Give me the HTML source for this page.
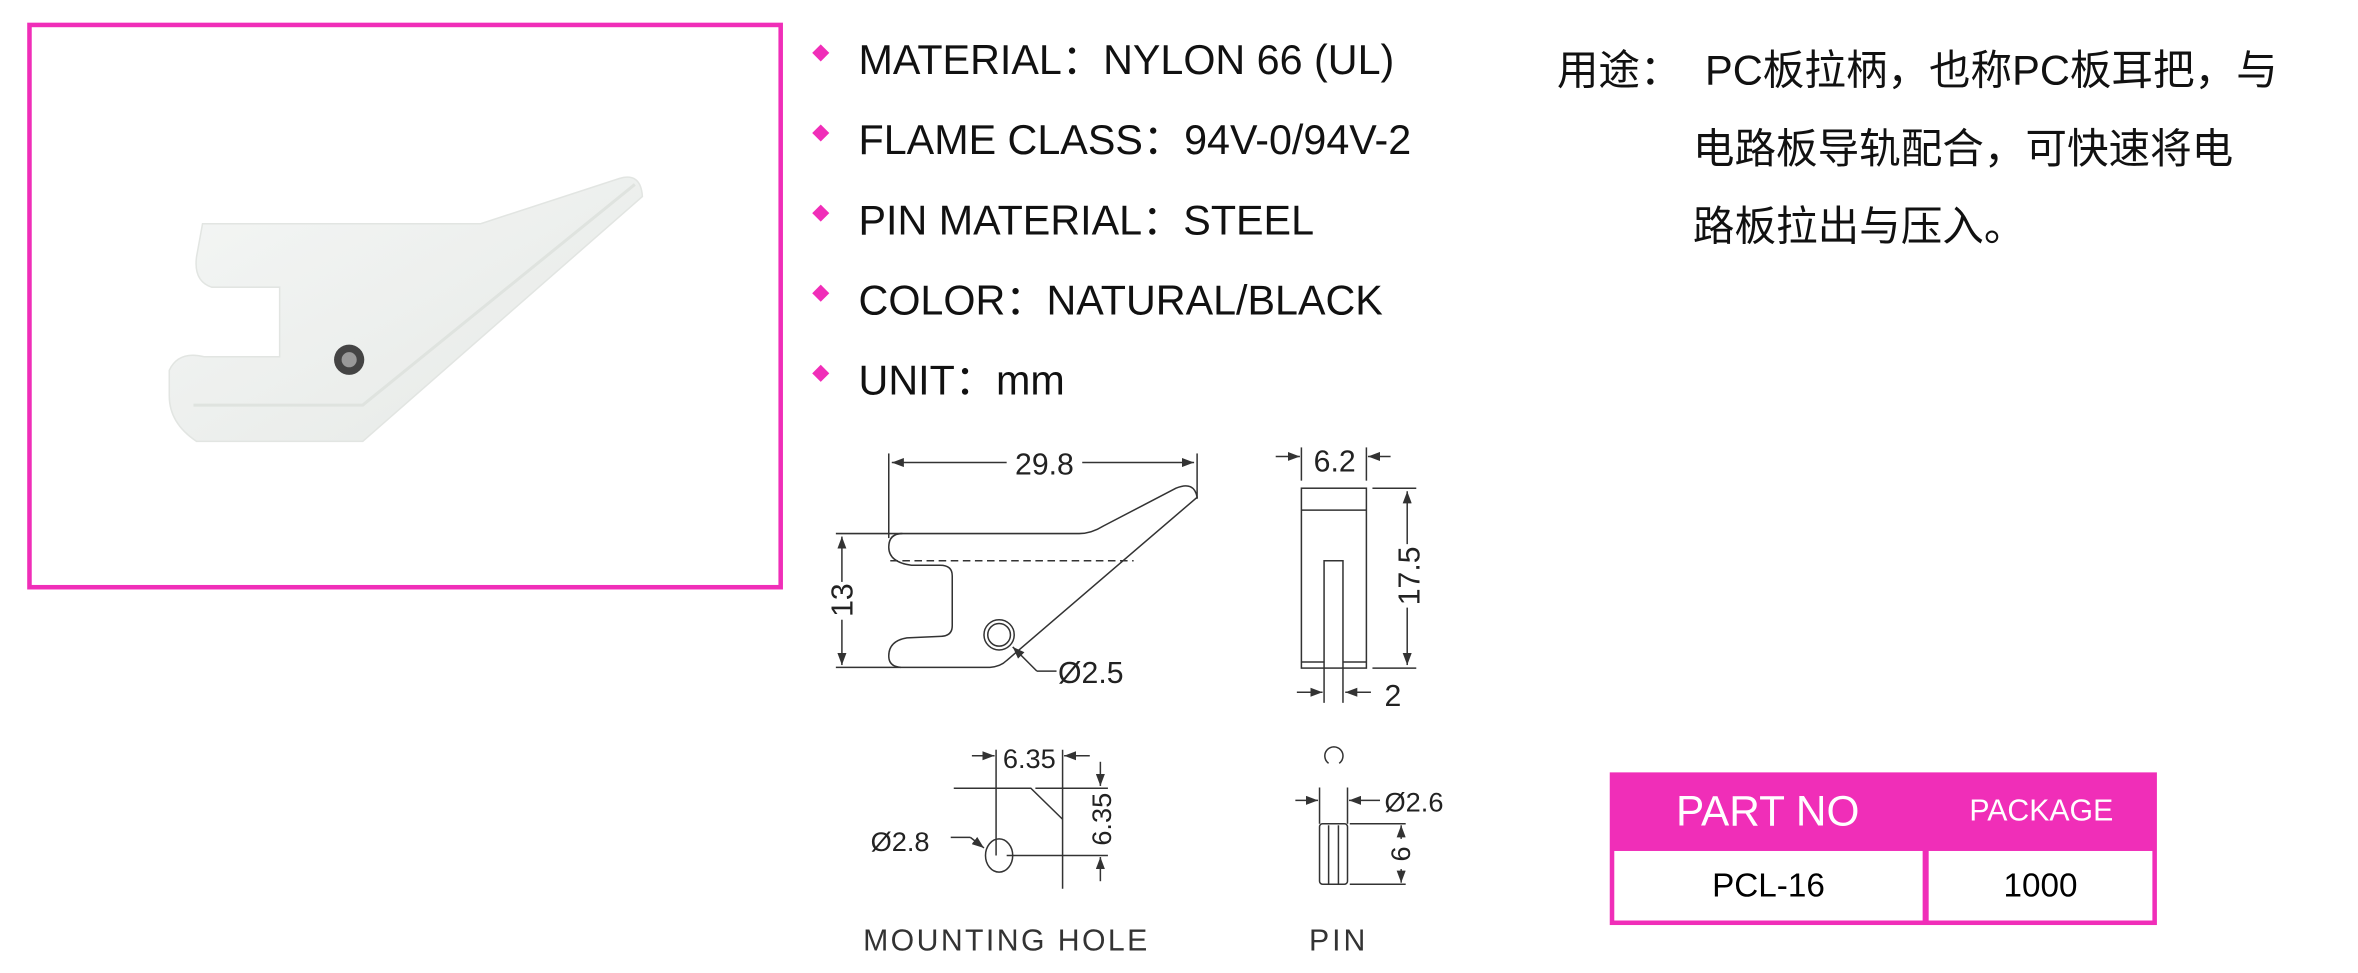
<!DOCTYPE html>
<html><head><meta charset="utf-8"><style>
html,body{margin:0;padding:0;background:#fff;width:2358px;height:973px;overflow:hidden}
#w{position:absolute;left:0;top:0;width:1560px;height:644px;transform:scale(1.5115);transform-origin:0 0;font-family:"Liberation Sans","Noto Sans CJK SC",sans-serif}
.frame{position:absolute;left:18px;top:15px;width:494px;height:369px;border:3px solid #f02eb8}
.li{position:absolute;left:568px;font-size:27.3px;color:#111;white-space:nowrap}
.bul{position:absolute;left:539px;width:8px;height:8px;background:#f02eb8;transform:rotate(45deg)}
.cn{position:absolute;font-size:27.5px;color:#111;white-space:nowrap}
.tb{position:absolute;background:#f02eb8}
.c{position:absolute;display:flex;align-items:center;justify-content:center}
</style></head><body><div id="w">
<div class="frame"></div>
<svg style="position:absolute;left:0;top:0" width="560" height="400">
<defs><linearGradient id="g" x1="0" y1="0" x2="1" y2="1"><stop offset="0" stop-color="#f4f6f5"/><stop offset="1" stop-color="#e6e9e6"/></linearGradient></defs>
<path d="M134 148 L318 148 L410 118 Q424 114 425 130 L240 292 L130 292 Q112 280 112 262 L112 245 Q118 232 135 236 L185 236 L185 190 L140 190 Q128 186 130 170 Z" fill="url(#g)" stroke="#e2e5e2" stroke-width="1"/>
<path d="M128 268 L240 268 L420 122" fill="none" stroke="#dfe3df" stroke-width="2"/>
<circle cx="231" cy="238" r="10" fill="#444"/><circle cx="231" cy="238" r="5" fill="#999"/>
</svg>
<div class="bul" style="top:31px"></div><div class="li" style="top:17px">MATERIAL：NYLON 66 (UL)</div>
<div class="bul" style="top:84px"></div><div class="li" style="top:70px">FLAME CLASS：94V-0/94V-2</div>
<div class="bul" style="top:137px"></div><div class="li" style="top:123px">PIN MATERIAL：STEEL</div>
<div class="bul" style="top:190px"></div><div class="li" style="top:176px">COLOR：NATURAL/BLACK</div>
<div class="bul" style="top:243px"></div><div class="li" style="top:229px">UNIT：mm</div>
<div class="cn" style="left:1030px;top:24px">用途：</div>
<div class="cn" style="left:1128px;top:24px">PC板拉柄，也称PC板耳把，与</div>
<div class="cn" style="left:1120px;top:76px">电路板导轨配合，可快速将电</div>
<div class="cn" style="left:1120px;top:127px">路板拉出与压入。</div>
<svg style="position:absolute;left:0;top:0" width="1000" height="644" font-family="Liberation Sans, sans-serif" fill="none" stroke="#333" stroke-width="1">
<defs><marker id="a" markerWidth="8" markerHeight="6" refX="8" refY="3" orient="auto"><path d="M0 0L8 3L0 6z" fill="#333" stroke="none"/></marker></defs>
<line x1="588" y1="300" x2="588" y2="356"/><line x1="792" y1="300" x2="792" y2="330"/>
<line x1="666" y1="306" x2="590" y2="306" marker-end="url(#a)"/><line x1="716" y1="306" x2="790" y2="306" marker-end="url(#a)"/>
<text x="691" y="314" font-size="20" fill="#222" stroke="none" text-anchor="middle">29.8</text>
<path d="M597 353 L714 353 Q722 353 730 348 L778 323 Q790 318 792 329 L666 437 Q662 441 655 441.5 L596 441.5 Q588 441 588 434 Q588 424 600 422 L622 421 Q630 421 630 414 L630 381 Q630 374 622 374 L603 374 Q588 372 588 362 Q588 353 597 353 Z"/>
<line x1="589" y1="371" x2="750" y2="371" stroke-dasharray="5 3"/>
<line x1="553" y1="353" x2="597" y2="353"/><line x1="553" y1="441.5" x2="596" y2="441.5"/>
<line x1="557" y1="385" x2="557" y2="355" marker-end="url(#a)"/><line x1="557" y1="410" x2="557" y2="440" marker-end="url(#a)"/>
<text transform="translate(564 397) rotate(-90)" font-size="20" fill="#222" stroke="none" text-anchor="middle">13</text>
<circle cx="661" cy="420" r="10"/><circle cx="661" cy="420" r="7.5"/>
<path d="M686 444 L699 444"/><line x1="686" y1="444" x2="670" y2="428" marker-end="url(#a)"/>
<text x="700" y="452" font-size="20" fill="#222" stroke="none">Ø2.5</text>
<rect x="861" y="323" width="43" height="119"/><line x1="861" y1="337.5" x2="904" y2="337.5"/>
<path d="M876 442 L876 371 L888.5 371 L888.5 442"/>
<line x1="861" y1="438" x2="876" y2="438"/><line x1="888.5" y1="438" x2="904" y2="438"/>
<line x1="861" y1="296" x2="861" y2="318"/><line x1="904" y1="296" x2="904" y2="318"/>
<line x1="844" y1="302" x2="860" y2="302" marker-end="url(#a)"/><line x1="920" y1="302" x2="905" y2="302" marker-end="url(#a)"/>
<text x="883" y="312" font-size="20" fill="#222" stroke="none" text-anchor="middle">6.2</text>
<line x1="908" y1="323" x2="937" y2="323"/><line x1="908" y1="442" x2="937" y2="442"/>
<line x1="931" y1="360" x2="931" y2="325" marker-end="url(#a)"/><line x1="931" y1="402" x2="931" y2="440" marker-end="url(#a)"/>
<text transform="translate(939 381) rotate(-90)" font-size="20" fill="#222" stroke="none" text-anchor="middle">17.5</text>
<line x1="876" y1="442" x2="876" y2="465"/><line x1="888.5" y1="442" x2="888.5" y2="465"/>
<line x1="858" y1="458" x2="875" y2="458" marker-end="url(#a)"/><line x1="907" y1="458" x2="890" y2="458" marker-end="url(#a)"/>
<text x="916" y="467" font-size="20" fill="#222" stroke="none">2</text>
<line x1="659" y1="496" x2="659" y2="566"/><line x1="703" y1="496" x2="703" y2="588"/>
<line x1="643" y1="500" x2="658" y2="500" marker-end="url(#a)"/><line x1="721" y1="500" x2="704" y2="500" marker-end="url(#a)"/>
<text x="681" y="508" font-size="18" fill="#222" stroke="none" text-anchor="middle">6.35</text>
<path d="M631 521.5 L682 521.5 L703 542"/><line x1="685" y1="521.5" x2="733" y2="521.5"/>
<line x1="666" y1="566" x2="733" y2="566"/>
<line x1="728" y1="504" x2="728" y2="520" marker-end="url(#a)"/><line x1="728" y1="583" x2="728" y2="567" marker-end="url(#a)"/>
<text transform="translate(735 542) rotate(-90)" font-size="18" fill="#222" stroke="none" text-anchor="middle">6.35</text>
<ellipse cx="661" cy="566" rx="9" ry="11"/>
<path d="M629 554 L642 554"/><line x1="642" y1="554" x2="651" y2="561" marker-end="url(#a)"/>
<text x="576" y="563" font-size="18" fill="#222" stroke="none">Ø2.8</text>
<path d="M879 505 A6 6 0 1 1 886 505"/>
<rect x="873" y="545" width="18.5" height="40" rx="2"/><line x1="879" y1="546" x2="879" y2="585"/><line x1="885.5" y1="546" x2="885.5" y2="585"/>
<line x1="873" y1="521" x2="873" y2="545"/><line x1="891.5" y1="521" x2="891.5" y2="545"/>
<line x1="857" y1="529.5" x2="872" y2="529.5" marker-end="url(#a)"/><line x1="913" y1="529.5" x2="892.5" y2="529.5" marker-end="url(#a)"/>
<text x="916" y="537" font-size="18" fill="#222" stroke="none">Ø2.6</text>
<line x1="893" y1="545" x2="930" y2="545"/><line x1="893" y1="585" x2="930" y2="585"/>
<line x1="927" y1="555" x2="927" y2="546" marker-end="url(#a)"/><line x1="927" y1="575" x2="927" y2="584" marker-end="url(#a)"/>
<text transform="translate(933 565) rotate(-90)" font-size="18" fill="#222" stroke="none" text-anchor="middle">6</text>
<text x="571" y="629" font-size="20" fill="#333" stroke="none" letter-spacing="1.6">MOUNTING  HOLE</text>
<text x="866" y="629" font-size="20" fill="#333" stroke="none" letter-spacing="2">PIN</text>
</svg>
<div class="tb" style="left:1065px;top:511px;width:362px;height:101px"></div>
<div class="c" style="left:1065px;top:511px;width:209px;height:52px;color:#fff;font-size:28px">PART NO</div>
<div class="c" style="left:1274px;top:511px;width:153px;height:52px;color:#fff;font-size:20px">PACKAGE</div>
<div class="c" style="left:1068px;top:563px;width:204px;height:46px;background:#fff;font-size:22px">PCL-16</div>
<div class="c" style="left:1276px;top:563px;width:148px;height:46px;background:#fff;font-size:22px">1000</div>
</div></body></html>
